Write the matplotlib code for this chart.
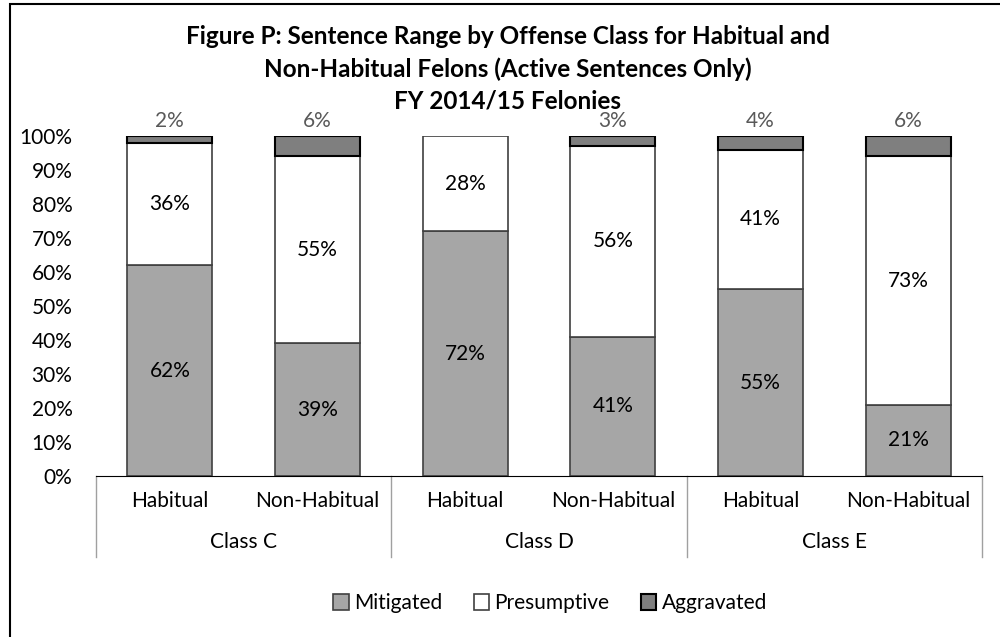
import numpy as np
import matplotlib.pyplot as plt
from matplotlib.patches import Rectangle

plt.rcParams['font.family'] = ['Lato', 'DejaVu Sans']

# data
groups = ['Class C', 'Class D', 'Class E']
categories = ['Habitual', 'Non-Habitual'] * 3
mitigated = np.array([62, 39, 72, 41, 55, 21])
presumptive = np.array([36, 55, 28, 56, 41, 73])
aggravated = np.array([2, 6, 0, 3, 4, 6])

title_lines = ['Figure P: Sentence Range by Offense Class for Habitual and',
               'Non-Habitual Felons (Active Sentences Only)',
               'FY 2014/15 Felonies']

fig = plt.figure(figsize=(10, 6.37), dpi=100)
ax = fig.add_axes([0.096, 0.2527, 0.886, 0.5338])

x = np.arange(len(categories))
w = 0.575
b1 = ax.bar(x, mitigated, w, color='#a6a6a6', edgecolor='#404040', lw=1.2, label='Mitigated')
b2 = ax.bar(x, presumptive, w, bottom=mitigated, color='white', edgecolor='#404040', lw=1.2, label='Presumptive')
top = aggravated > 0
b3 = ax.bar(x[top], aggravated[top], w, bottom=(mitigated + presumptive)[top],
            color='#7f7f7f', edgecolor='black', lw=1.5, label='Aggravated')

fs = 15
for i in range(len(x)):
    ax.text(x[i], mitigated[i] / 2, f'{mitigated[i]}%', ha='center', va='center', fontsize=fs)
    ax.text(x[i], mitigated[i] + presumptive[i] / 2, f'{presumptive[i]}%', ha='center', va='center', fontsize=fs)
    if aggravated[i] > 0:
        ax.text(x[i], 104.4, f'{aggravated[i]}%', ha='center', va='center', fontsize=fs, color='#595959')

ax.set_xlim(-0.5, len(x) - 0.5)
ax.set_ylim(0, 100)
ax.set_yticks(np.arange(0, 101, 10))
ax.set_yticklabels([f'{v}%' for v in range(0, 101, 10)], fontsize=fs)
ax.set_xticks(x)
ax.set_xticklabels(categories, fontsize=fs)
ax.tick_params(axis='both', length=0)
ax.tick_params(axis='x', pad=11)
ax.tick_params(axis='y', pad=17)
for s in ['top', 'right', 'left']:
    ax.spines[s].set_visible(False)
ax.spines['bottom'].set_color('black')

# group separators and group labels
tr = ax.get_xaxis_transform()
for xs in np.arange(-0.5, len(x), 2):
    ax.plot([xs, xs], [0, -0.238], transform=tr, color='#a0a0a0', lw=1, clip_on=False)
for g, name in enumerate(groups):
    ax.text(2 * g + 0.5, -0.194, name, transform=tr, ha='center', va='center', fontsize=fs)

for k, line in enumerate(title_lines):
    fig.text(0.508, 1 - (37 + 32 * k) / 637, line, ha='center', va='center',
             fontsize=17.5, fontweight='bold')

fig.legend(handles=[b1, b2, b3], loc='center', bbox_to_anchor=(0.55, 0.053), ncol=3,
           frameon=False, fontsize=fs, handlelength=0.75, handleheight=0.75,
           handletextpad=0.25, columnspacing=1.5)

fig.patches.append(Rectangle((0.01, -0.05), 1.2, 0.9937 + 0.05, transform=fig.transFigure,
                             fill=False, edgecolor='black', lw=1.5))

fig.savefig('out.png', dpi=100)
